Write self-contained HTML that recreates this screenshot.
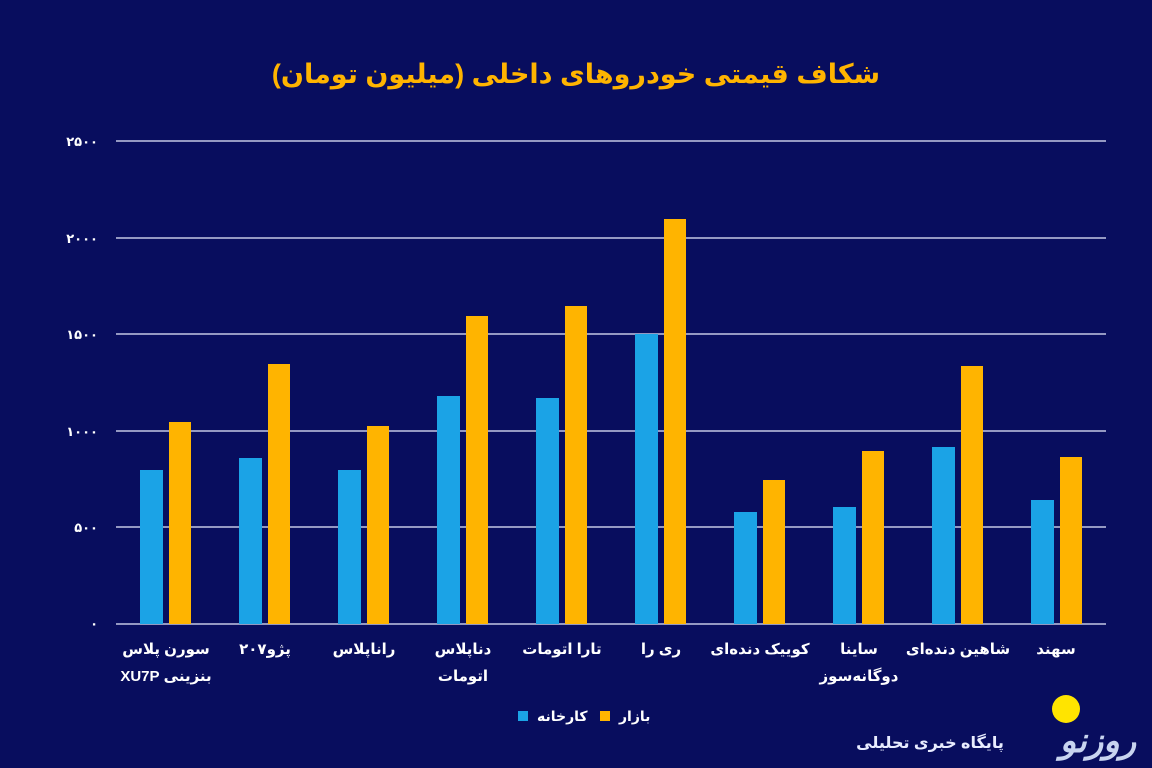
<!DOCTYPE html>
<html><head><meta charset="utf-8"><style>
html,body{margin:0;padding:0;background:#070b5c;}
svg{display:block}
text{font-family:"Liberation Sans","DejaVu Sans",sans-serif;}
</style></head><body>
<svg width="1152" height="768" viewBox="0 0 1152 768" xmlns="http://www.w3.org/2000/svg">
<rect width="1152" height="768" fill="#080d5e"/>
<text x="576" y="83" text-anchor="middle" font-size="27" font-weight="bold" fill="#ffb400" direction="rtl">شکاف قیمتی خودروهای داخلی (میلیون تومان)</text>
<g stroke="#e8ecff" stroke-width="1.2">
<line x1="116" y1="141" x2="1106" y2="141"/>
<line x1="116" y1="238" x2="1106" y2="238"/>
<line x1="116" y1="334" x2="1106" y2="334"/>
<line x1="116" y1="431" x2="1106" y2="431"/>
<line x1="116" y1="527" x2="1106" y2="527"/>
<line x1="116" y1="624" x2="1106" y2="624"/>
</g>
<g fill="#fff" font-size="13" font-weight="bold" text-anchor="end">
<text x="98" y="146">۲۵۰۰</text><text x="98" y="243">۲۰۰۰</text><text x="98" y="339">۱۵۰۰</text>
<text x="98" y="436">۱۰۰۰</text><text x="98" y="532">۵۰۰</text><text x="98" y="628">۰</text>
</g>
<g fill="#1ba3e6">
<rect x="140" y="470" width="23" height="154"/>
<rect x="239" y="458" width="23" height="166"/>
<rect x="338" y="470" width="23" height="154"/>
<rect x="437" y="396" width="23" height="228"/>
<rect x="536" y="398" width="23" height="226"/>
<rect x="635" y="334" width="23" height="290"/>
<rect x="734" y="512" width="23" height="112"/>
<rect x="833" y="507" width="23" height="117"/>
<rect x="932" y="447" width="23" height="177"/>
<rect x="1031" y="500" width="23" height="124"/>
</g>
<g fill="#ffb400">
<rect x="169" y="422" width="22" height="202"/>
<rect x="268" y="364" width="22" height="260"/>
<rect x="367" y="426" width="22" height="198"/>
<rect x="466" y="316" width="22" height="308"/>
<rect x="565" y="306" width="22" height="318"/>
<rect x="664" y="219" width="22" height="405"/>
<rect x="763" y="480" width="22" height="144"/>
<rect x="862" y="451" width="22" height="173"/>
<rect x="961" y="366" width="22" height="258"/>
<rect x="1060" y="457" width="22" height="167"/>
</g>
<g fill="#fff" font-size="15" font-weight="bold" text-anchor="middle" direction="rtl">
<text x="166" y="654">سورن پلاس</text><text x="166" y="681">بنزینی XU7P</text>
<text x="265" y="654">پژو۲۰۷</text>
<text x="364" y="654">راناپلاس</text>
<text x="463" y="654">دناپلاس</text><text x="463" y="681">اتومات</text>
<text x="562" y="654">تارا اتومات</text>
<text x="661" y="654">ری را</text>
<text x="760" y="654">کوییک دنده‌ای</text>
<text x="859" y="654">ساینا</text><text x="859" y="681">دوگانه‌سوز</text>
<text x="958" y="654">شاهین دنده‌ای</text>
<text x="1056" y="654">سهند</text>
</g>
<rect x="518" y="711" width="10" height="10" fill="#1ba3e6"/>
<text x="537" y="721" fill="#fff" font-size="14" font-weight="bold">کارخانه</text>
<rect x="600" y="711" width="10" height="10" fill="#ffb400"/>
<text x="619" y="721" fill="#fff" font-size="14" font-weight="bold">بازار</text>
<circle cx="1066" cy="709" r="14" fill="#ffe400"/>
<text x="1098" y="752" fill="#c8d4f0" font-size="34" font-weight="bold" font-style="italic" text-anchor="middle">روزنو</text>
<text x="930" y="748" fill="#e8ecff" font-size="16" font-weight="bold" text-anchor="middle" direction="rtl">پایگاه خبری تحلیلی</text>
</svg>
</body></html>
